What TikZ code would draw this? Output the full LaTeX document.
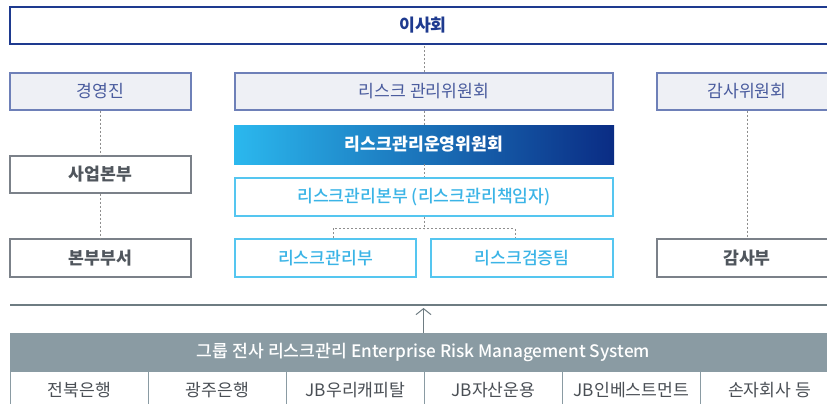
\documentclass[tikz,border=0pt]{standalone}
\usepackage{fontspec}
\setmainfont{Noto Sans CJK KR}
\newfontfamily\medfont{Noto Sans CJK KR Medium}
\usetikzlibrary{arrows.meta,positioning}
\definecolor{navy}{HTML}{1E3A8F}
\definecolor{cmtfill}{HTML}{EEF0F5}
\definecolor{cmtline}{HTML}{6E80B8}
\definecolor{cmttext}{HTML}{4A5C9E}
\definecolor{skyline}{HTML}{55C6F0}
\definecolor{skytext}{HTML}{3BB4E6}
\definecolor{grayline}{HTML}{7B8189}
\definecolor{graytext}{HTML}{50565D}
\definecolor{dashc}{HTML}{8E8E8E}
\definecolor{ermc}{HTML}{8A9BA3}
\definecolor{subtext}{HTML}{4A4F55}
\begin{document}
\begin{tikzpicture}[x=1pt,y=-1pt,font=\fontsize{17.2}{20}\selectfont,
  box/.style={draw,line width=1.1pt,inner sep=0pt,minimum height=37pt},
  boardbox/.style={box,draw=navy,text=navy,font=\fontsize{17.2}{20}\selectfont\bfseries},
  cmtbox/.style={box,fill=cmtfill,draw=cmtline,text=cmttext},
  riskbox/.style={box,draw=skyline,text=skytext,font=\fontsize{17.2}{20}\selectfont\medfont},
  unitbox/.style={box,draw=grayline,text=graytext,font=\fontsize{17.2}{20}\selectfont\bfseries},
  dashline/.style={dashc,line width=1pt,dash pattern=on 2pt off 2pt}]
  \useasboundingbox (0,0) rectangle (827,404);
  % board and committees
  \node[boardbox,minimum width=826pt] (board) at (423,25.5) {이사회};
  \node[cmtbox,minimum width=181pt] (exec) at (100.5,91.5) {경영진};
  \node[cmtbox,minimum width=378pt] (rmc) at (424,91.5) {리스크 관리위원회};
  \node[cmtbox,minimum width=180pt] (audc) at (747,91.5) {감사위원회};
  \node[inner sep=0pt,minimum width=380pt,minimum height=39pt,left color={rgb,255:red,43;green,184;blue,238},right color={rgb,255:red,10;green,44;blue,132},text=white,font=\fontsize{17.2}{20}\selectfont\bfseries] (ops) at (424,144.5) {리스크관리운영위원회};
  \node[riskbox,minimum width=378pt,minimum height=38pt] (rmhq) at (424,197) {리스크관리본부 (리스크관리책임자)};
  % departments
  \node[unitbox,minimum width=181pt] (bizhq) at (100.5,174.5) {사업본부};
  \node[unitbox,minimum width=181pt,minimum height=38pt] (hqdept) at (100.5,258) {본부부서};
  \node[riskbox,minimum width=181pt,minimum height=38pt] (rmdept) at (325.5,258) {리스크관리부};
  \node[riskbox,minimum width=182pt,minimum height=38pt] (rvteam) at (522,258) {리스크검증팀};
  \node[unitbox,minimum width=180pt,minimum height=38pt] (auddept) at (747,258) {감사부};
  % dashed links
  \draw[dashline] (rmc.north) -- (rmc.north |- board.south);
  \draw[dashline] (rmc.south) -- (ops.north);
  \draw[dashline] (ops.south) -- (rmhq.north);
  \coordinate (split) at ([yshift=-12pt]rmhq.south);
  \draw[dashline] (rmhq.south) -- (split);
  \draw[dashline] ([xshift=7.5pt]rmdept.north) -- ([xshift=7.5pt]rmdept.north |- split) -- ([xshift=-7pt]rvteam.north |- split) -- ([xshift=-7pt]rvteam.north);
  \draw[dashline] (exec.south) -- (bizhq.north);
  \draw[dashline] (bizhq.south) -- (hqdept.north);
  \draw[dashline] (audc.south) -- (auddept.north);
  % group ERM
  \node[fill=ermc,text=white,inner sep=0pt,minimum width=827pt,minimum height=38pt,font=\fontsize{17.2}{20}\selectfont\medfont] (erm) at (423.5,352) {그룹 전사 리스크관리 Enterprise Risk Management System};
  \coordinate (baseL) at (10,305);
  \coordinate (baseR) at (840,305);
  \draw[ermc!80!black,line width=1.2pt] (baseL) -- (baseR);
  \draw[ermc!80!black,line width=1pt,-{Straight Barb[length=6pt,width=15pt]}] (erm.north) -- ([yshift=-3pt]erm.north |- baseL);
  \foreach \name [count=\i] in {전북은행,광주은행,JB우리캐피탈,JB자산운용,JB인베스트먼트,손자회사 등}{
    \node[draw=ermc,line width=1pt,text=subtext,inner sep=0pt,minimum width=138pt,minimum height=38pt,anchor=north west] (sub\i) at (10+138*\i-138,371) {\name};
  }
\end{tikzpicture}
\end{document}
